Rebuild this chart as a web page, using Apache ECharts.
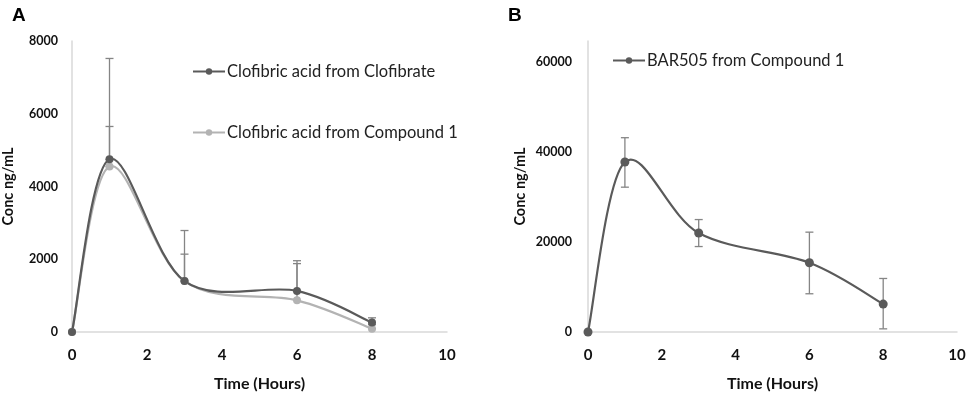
<!DOCTYPE html>
<html>
<head>
<meta charset="utf-8">
<script src="https://cdn.jsdelivr.net/npm/echarts@6/dist/echarts.min.js"></script>
<style>
html,body{margin:0;padding:0;background:#fff;}
#chart{width:969px;height:397px;}
</style>
</head>
<body>
<div id="chart"></div>
<script>
// Data
const timeHours = [0, 1, 3, 6, 8];
const xTicks = [0, 2, 4, 6, 8, 10];

// Panel A
const clofibrateName = 'Clofibric acid from Clofibrate';
const clofibrateValues = [0, 4750, 1400, 1130, 260];
const clofibrateUpper = [0, 7520, 2790, 1960, 390];

const compoundAName = 'Clofibric acid from Compound 1';
const compoundAValues = [0, 4550, 1400, 870, 90];
const compoundAUpper = [0, 5650, 2140, 1880, 200];

// Panel B
const bar505Name = 'BAR505 from Compound 1';
const bar505Values = [0, 37800, 22000, 15400, 6200];
const bar505Upper = [0, 43200, 25000, 22200, 11900];
const bar505Lower = [0, 32200, 19000, 8500, 700];

const FONT = 'Lato, "Open Sans", sans-serif';
const DARK = '#5a5a5a';
const LIGHT = '#b3b3b3';
const ERR = '#858585';
const AXIS = '#d9d9d9';

function pairs(xs, ys){ return xs.map((x,i)=>[x, ys[i]]); }
function errData(xs, lo, hi){ return xs.map((x,i)=>[x, lo[i], hi[i]]).filter(d=>d[2]>d[1]); }

function errorRender(params, api){
  const x = api.value(0);
  const lo = api.coord([x, api.value(1)]);
  const hi = api.coord([x, api.value(2)]);
  const cap = 4;
  const style = {stroke: ERR, lineWidth: 1.3};
  return {
    type: 'group',
    children: [
      {type:'line', shape:{x1:lo[0], y1:lo[1], x2:hi[0], y2:hi[1]}, style: style},
      {type:'line', shape:{x1:hi[0]-cap, y1:hi[1], x2:hi[0]+cap, y2:hi[1]}, style: style},
      {type:'line', shape:{x1:lo[0]-cap, y1:lo[1], x2:lo[0]+cap, y2:lo[1]}, style: style}
    ]
  };
}

// Smoothed curve (Catmull-Rom style, like a spreadsheet's smoothed line) through the series points
function curveRender(color){
  return function(params, api){
    if (params.dataIndex !== 0) return {type:'group', children:[]};
    const n = params.dataInsideLength !== undefined ? null : null;
    const pts = [];
    const data = params.context.__pts;
    return null;
  };
}
function makeCurve(xs, ys, color){
  return function(params, api){
    if (params.dataIndex !== 0) return {type:'group', children:[]};
    const P = xs.map((x,i)=>api.coord([x, ys[i]]));
    const t = 1/6;
    let d = 'M' + P[0][0] + ' ' + P[0][1];
    for (let i = 0; i < P.length - 1; i++){
      const p0 = P[Math.max(i-1,0)], p1 = P[i], p2 = P[i+1], p3 = P[Math.min(i+2, P.length-1)];
      const c1 = [p1[0] + (p2[0]-p0[0])*t, p1[1] + (p2[1]-p0[1])*t];
      const c2 = [p2[0] - (p3[0]-p1[0])*t, p2[1] - (p3[1]-p1[1])*t];
      d += ' C' + c1[0] + ' ' + c1[1] + ' ' + c2[0] + ' ' + c2[1] + ' ' + p2[0] + ' ' + p2[1];
    }
    return {type:'path', shape:{pathData:d}, style:{stroke:color, lineWidth:2.2, fill:null}};
  };
}

function xAxisCfg(gi){
  return {
    type:'value', gridIndex: gi, min:0, max:10, interval:2,
    name:'Time (Hours)', nameLocation:'middle', nameGap:44,
    nameTextStyle:{fontFamily:FONT, fontWeight:'bold', fontSize:16, color:'#111'},
    axisLine:{show:true, lineStyle:{color:AXIS, width:1.5}},
    axisTick:{show:false}, splitLine:{show:false},
    axisLabel:{fontFamily:FONT, fontWeight:'bold', fontSize:15, color:'#111', margin:16}
  };
}
function yAxisCfg(gi, max, interval, margin, gap){
  return {
    type:'value', gridIndex: gi, min:0, max:max, interval:interval,
    name:'Conc ng/mL', nameLocation:'middle', nameGap: gap, nameRotate:90,
    nameTextStyle:{fontFamily:FONT, fontWeight:'bold', fontSize:14.5, color:'#111'},
    axisLine:{show:true, lineStyle:{color:AXIS, width:1.5}},
    axisTick:{show:false}, splitLine:{show:false},
    axisLabel:{fontFamily:FONT, fontWeight:'bold', fontSize:12.5, color:'#111', margin:margin,
      showMaxLabel: max % interval === 0,
      formatter: v => (v % interval === 0 ? String(v) : '')}
  };
}

const legendText = {fontFamily:FONT, fontSize:16.5, color:'#222', padding:[0,0,0,-3]};
const option = {
  backgroundColor:'#fff',
  animation:false,
  title:[
    {text:'A', left:7, top:1, textStyle:{fontFamily:'"Liberation Sans", Arial, sans-serif', fontWeight:'bold', fontSize:19, color:'#000'}},
    {text:'B', left:503, top:1, textStyle:{fontFamily:'"Liberation Sans", Arial, sans-serif', fontWeight:'bold', fontSize:19, color:'#000'}}
  ],
  legend:[
    {data:[
       {name:clofibrateName, lineStyle:{color:DARK, width:2, opacity:1}},
       {name:compoundAName, lineStyle:{color:LIGHT, width:2, opacity:1}}
     ], orient:'vertical', left:187, top:58, itemGap:44,
     itemWidth:32, itemHeight:8, textStyle:legendText},
    {data:[{name:bar505Name, lineStyle:{color:DARK, width:2, opacity:1}}], orient:'vertical', left:607, top:47,
     itemWidth:32, itemHeight:8, textStyle:legendText}
  ],
  grid:[
    {left:68, top:41, width:379, height:293},
    {left:588, top:41, width:369, height:293}
  ],
  xAxis:[xAxisCfg(0), xAxisCfg(1)],
  yAxis:[yAxisCfg(0, 8000, 2000, 14, 56), yAxisCfg(1, 64700, 20000, 16, 60)],
  series:[
    {type:'custom', xAxisIndex:0, yAxisIndex:0, renderItem:errorRender, data:errData(timeHours, compoundAValues, compoundAUpper), z:1, silent:true},
    {type:'custom', xAxisIndex:0, yAxisIndex:0, renderItem:errorRender, data:errData(timeHours, clofibrateValues, clofibrateUpper), z:1, silent:true},
    {type:'custom', xAxisIndex:0, yAxisIndex:0, renderItem:makeCurve(timeHours, compoundAValues, LIGHT), data:pairs(timeHours, compoundAValues), z:2, silent:true},
    {type:'custom', xAxisIndex:0, yAxisIndex:0, renderItem:makeCurve(timeHours, clofibrateValues, DARK), data:pairs(timeHours, clofibrateValues), z:3, silent:true},
    {name:compoundAName, type:'line', xAxisIndex:0, yAxisIndex:0, data:pairs(timeHours, compoundAValues),
     symbol:'circle', symbolSize:8, lineStyle:{color:LIGHT, width:2, opacity:0}, itemStyle:{color:LIGHT}, z:4},
    {name:clofibrateName, type:'line', xAxisIndex:0, yAxisIndex:0, data:pairs(timeHours, clofibrateValues),
     symbol:'circle', symbolSize:8, lineStyle:{color:DARK, width:2, opacity:0}, itemStyle:{color:DARK}, z:5},
    {type:'custom', xAxisIndex:1, yAxisIndex:1, renderItem:errorRender, data:errData(timeHours, bar505Lower, bar505Upper), z:1, silent:true},
    {type:'custom', xAxisIndex:1, yAxisIndex:1, renderItem:makeCurve(timeHours, bar505Values, DARK), data:pairs(timeHours, bar505Values), z:3, silent:true},
    {name:bar505Name, type:'line', xAxisIndex:1, yAxisIndex:1, data:pairs(timeHours, bar505Values),
     symbol:'circle', symbolSize:9, lineStyle:{color:DARK, width:2, opacity:0}, itemStyle:{color:DARK}, z:5}
  ]
};

const chart = echarts.init(document.getElementById('chart'), null, {renderer:'canvas'});
chart.setOption(option);
</script>
</body>
</html>
